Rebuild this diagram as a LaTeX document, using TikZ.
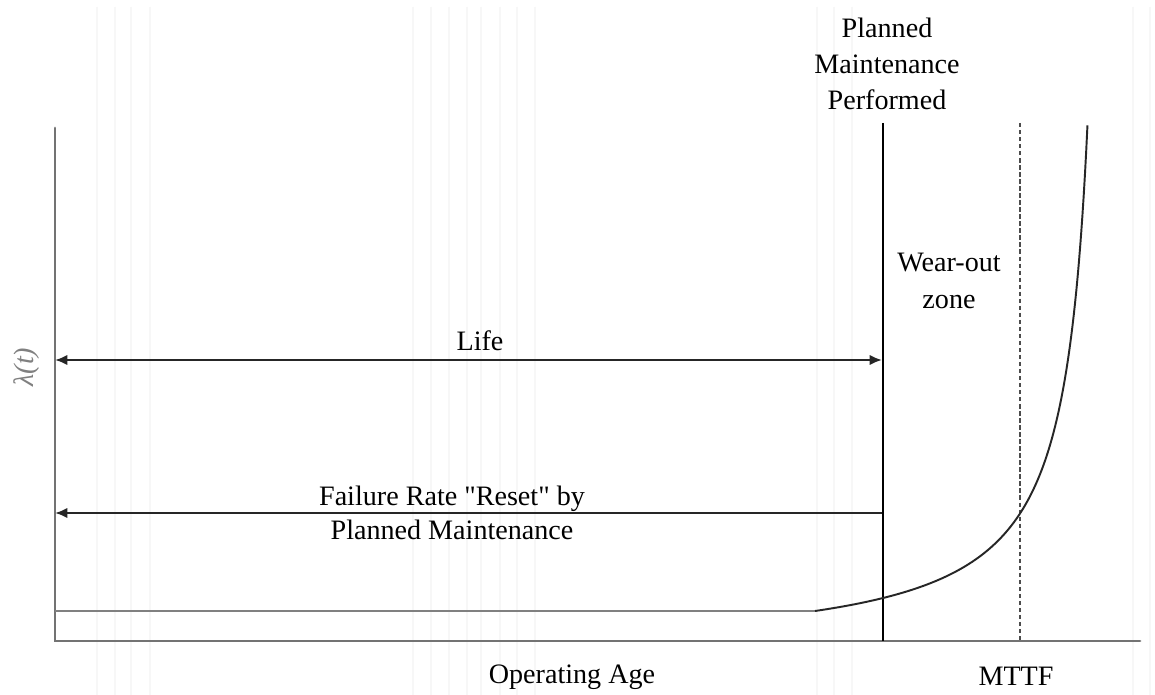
\documentclass[tikz,border=0pt]{standalone}
\usepackage{fontspec}
\setmainfont{Liberation Serif}[Ligatures=TeXOff]
\usetikzlibrary{arrows.meta}
\begin{document}
\begin{tikzpicture}[x=0.02cm,y=-0.02cm,
  lbl/.style={font=\fontsize{16}{19.5}\selectfont, align=center, inner sep=0pt},
  axisline/.style={draw=black!55, line width=1.6pt},
  guide/.style={draw=black, line width=1.1pt},
  faint/.style={draw=black!3, line width=0.9pt},
  dimarrow/.style={draw=black!85, line width=1.3pt, -{Latex[length=7pt,width=6pt]}},
  curve/.style={draw=black!85, line width=1.1pt}]
  \useasboundingbox (0,0) rectangle (1155,695);
  \fill[white] (0,0) rectangle (1155,695);

  % background grid lines
  \foreach \gx in {97,115,131,150,413,431,449,467,481,500,517,535,817,834,852,1133,1150}
    \draw[faint] (\gx,7) -- (\gx,695);

  % axes
  \coordinate (top) at (55,128);
  \coordinate (origin) at (55,641);
  \coordinate (xend) at (1140,641);
  \draw[axisline, line cap=round] (top) -- (origin) -- (xend);

  % planned maintenance and MTTF markers
  \coordinate (pmTop) at (883,123);
  \coordinate (pmBot) at (883,641);
  \draw[guide] (pmTop) -- (pmBot);
  \coordinate (mtTop) at (1020,123);
  \coordinate (mtBot) at (1020,641);
  \draw[black!70, line width=1.1pt, dash pattern=on 2.5pt off 1.5pt] (mtTop) -- (mtBot);

  % failure rate: flat part then wear-out rise
  \draw[black!50, line width=1.4pt] (55,611) -- (815,611);
  \draw[curve] plot[domain=815:1087.45, samples=220]
    (\x, {611 - 13000/(1112-\x) + 13000/297});

  % life span and reset arrows
  \coordinate (lifeL) at (55,360);
  \coordinate (lifeR) at (882,360);
  \draw[dimarrow, {Latex[length=7pt,width=6pt]}-{Latex[length=7pt,width=6pt]}] (lifeL) -- (lifeR);
  \coordinate (resetR) at (882,513);
  \coordinate (resetL) at (55,513);
  \draw[dimarrow] (resetR) -- (resetL);

  % labels
  \node[lbl] (life) at (480,341) {Life};
  \node[lbl] (reset1) at (452,499) {Failure Rate "Reset" by};
  \node[lbl] (reset2) at (452,530) {Planned Maintenance};
  \node[lbl] (pm) at (887,64)
    {Planned\\[1pt]Maintenance\\[1pt]Performed};
  \node[lbl] (wear) at (949,281) {Wear-out\\[2pt]zone};
  \node[lbl] (age) at (572,677) {Operating Age};
  \node[lbl] (mttf) at (1016,676) {MTTF};
  \node[lbl, text=black!50, rotate=90] (lambda) at (27,367) {\itshape λ(t)};
\end{tikzpicture}
\end{document}
